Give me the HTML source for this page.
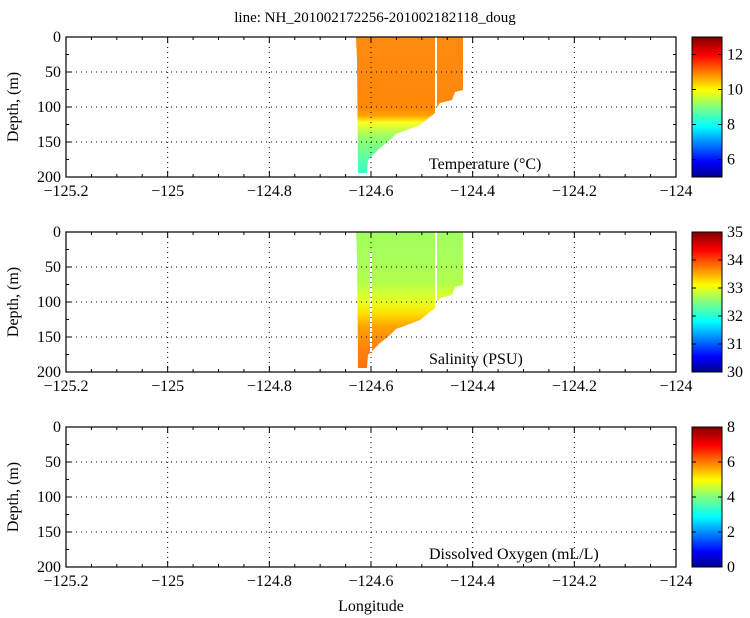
<!DOCTYPE html>
<html><head><meta charset="utf-8"><style>
html,body{margin:0;padding:0;background:#fff;}
svg{display:block;}
svg text{font-family:"Liberation Serif","DejaVu Serif","Times New Roman",Times,serif !important;}
</style></head><body>
<svg width="750" height="618" viewBox="0 0 750 618" xmlns="http://www.w3.org/2000/svg">
<defs>
<linearGradient id="jet" x1="0" y1="1" x2="0" y2="0">
<stop offset="0" stop-color="#00008f"/><stop offset="0.11" stop-color="#0000ff"/>
<stop offset="0.36" stop-color="#00ffff"/><stop offset="0.5" stop-color="#80ff80"/>
<stop offset="0.62" stop-color="#ffff00"/><stop offset="0.87" stop-color="#ff0000"/>
<stop offset="1" stop-color="#800000"/></linearGradient>
<linearGradient id="tg" gradientUnits="userSpaceOnUse" x1="0" y1="37" x2="0" y2="177">
<stop offset="0" stop-color="#ff8a10"/><stop offset="0.5" stop-color="#ff8808"/>
<stop offset="0.56" stop-color="#ffa000"/><stop offset="0.61" stop-color="#ffff20"/>
<stop offset="0.7" stop-color="#a0ff60"/><stop offset="0.85" stop-color="#60ffa0"/>
<stop offset="1" stop-color="#30ffd0"/></linearGradient>
<linearGradient id="sg" gradientUnits="userSpaceOnUse" x1="0" y1="232" x2="0" y2="372">
<stop offset="0" stop-color="#a0ff60"/><stop offset="0.35" stop-color="#b0ff50"/>
<stop offset="0.5" stop-color="#e8ff20"/><stop offset="0.58" stop-color="#ffe000"/>
<stop offset="0.68" stop-color="#ffa000"/><stop offset="0.85" stop-color="#ff8010"/>
<stop offset="1" stop-color="#ff7010"/></linearGradient>
</defs>

<text x="375" y="22" font-size="15" text-anchor="middle">line: NH_201002172256-201002182118_doug</text>

<polygon fill="url(#tg)" points="356,37 435,37 435,113 430,117 420,125 407,130 396,134 390,140 380,148 368,160 367,173 358,173 357,60"/>
<polygon fill="url(#tg)" points="437,37 463,37 463,90 455,92 452,100 440,103 437,107"/>
<polygon fill="url(#sg)" points="356,232 435,232 435,308 430,312 420,320 407,325 396,329 390,335 380,343 368,355 367,368 358,368 357,255"/>
<polygon fill="url(#sg)" points="437,232 463,232 463,285 455,287 452,295 440,298 437,302"/>
<line x1="371" y1="252" x2="371" y2="360" stroke="#fff" stroke-width="2"/>

<script>
(function(){
var ns="http://www.w3.org/2000/svg",svg=document.querySelector('svg');
function el(t,a,txt){var e=document.createElementNS(ns,t);for(var k in a)e.setAttribute(k,a[k]);if(txt!=null)e.textContent=txt;svg.appendChild(e);return e;}
var L=66,R=676,tops=[37,232,427],H=140;
function X(l){return L+(l+125.2)*(R-L)/1.2;}
var names=["Temperature (\u00B0C)","Salinity (PSU)","Dissolved Oxygen (mL/L)"];
var cbs=[[5,13,[6,8,10,12]],[30,35,[30,31,32,33,34,35]],[0,8,[0,2,4,6,8]]];
tops.forEach(function(T,i){
 var B=T+H;
 [50,100,150].forEach(function(d){var y=T+d*0.7;el('line',{x1:L,x2:R,y1:y,y2:y,stroke:'#000','stroke-width':1,'stroke-dasharray':'1,4'});});
 for(var k=1;k<6;k++){var x=X(-125.2+0.2*k);el('line',{x1:x,x2:x,y1:T,y2:B,stroke:'#000','stroke-width':1,'stroke-dasharray':'1,4'});}
 el('rect',{x:L,y:T,width:R-L,height:H,fill:'none',stroke:'#000','stroke-width':1.2});
 for(var k=0;k<=24;k++){var x=X(-125.2+0.05*k),len=(k%4==0)?6:3;
  el('line',{x1:x,x2:x,y1:B,y2:B-len,stroke:'#000'});el('line',{x1:x,x2:x,y1:T,y2:T+len,stroke:'#000'});}
 for(var d=0;d<=200;d+=25){var y=T+d*0.7,len=(d%50==0)?6:3;
  el('line',{x1:L,x2:L+len,y1:y,y2:y,stroke:'#000'});el('line',{x1:R,x2:R-len,y1:y,y2:y,stroke:'#000'});
  if(d%50==0)el('text',{x:L-5,y:y+5,'font-size':16,'text-anchor':'end'},String(d));}
 for(var k=0;k<=6;k++){var v=(-125.2+0.2*k);var s=(Math.round(v*10)/10).toString().replace('-','\u2212');
  el('text',{x:X(v),y:B+19,'font-size':16,'text-anchor':'middle'},s);}
 el('text',{x:18,y:T+H/2,'font-size':16,'text-anchor':'middle',transform:'rotate(-90 18 '+(T+H/2)+')'},'Depth, (m)');
 el('text',{x:429,y:B-8,'font-size':16},names[i]);
 el('rect',{x:692,y:T,width:30,height:H,fill:'url(#jet)',stroke:'#000','stroke-width':1});
 var c=cbs[i];c[2].forEach(function(v){var y=T+(c[1]-v)/(c[1]-c[0])*H;
  el('line',{x1:722,x2:718,y1:y,y2:y,stroke:'#000'});el('line',{x1:692,x2:696,y1:y,y2:y,stroke:'#000'});
  el('text',{x:727,y:y+5,'font-size':16},String(v));});
});
el('text',{x:371,y:611,'font-size':16,'text-anchor':'middle'},'Longitude');
})();
</script>
</svg>
</body></html>
